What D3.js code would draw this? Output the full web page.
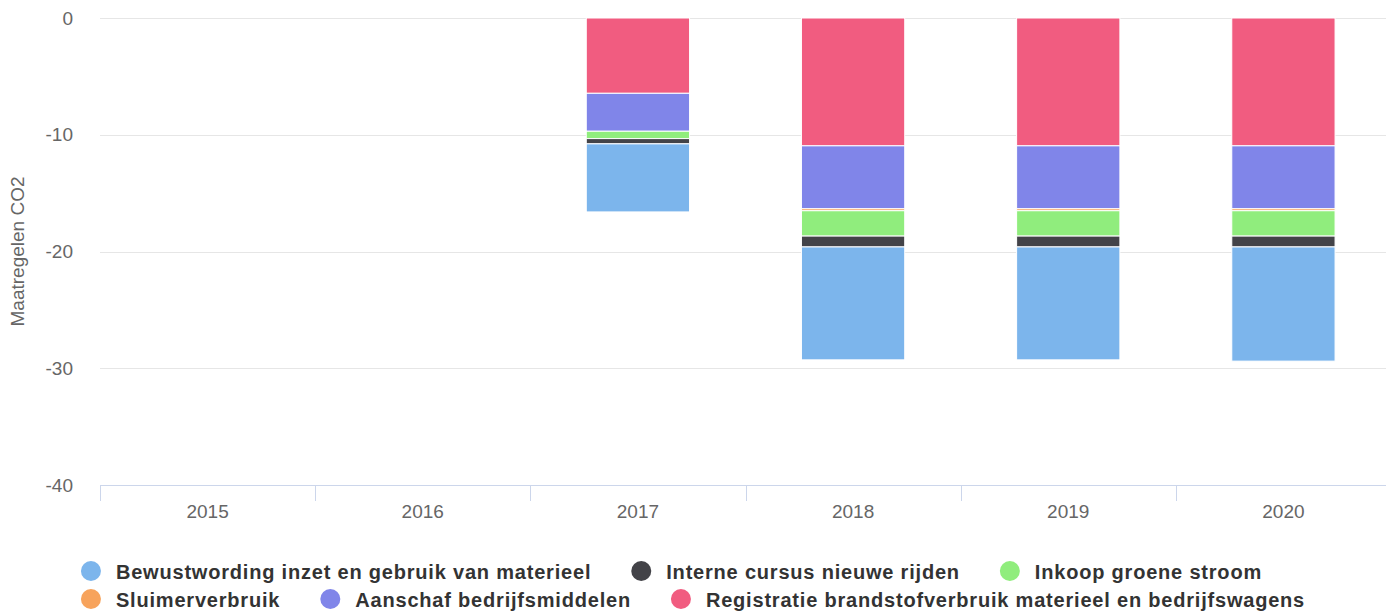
<!DOCTYPE html>
<html>
<head>
<meta charset="utf-8">
<script src="https://cdn.jsdelivr.net/npm/d3@7/dist/d3.min.js"></script>
<style>
  body { margin: 0; background: #fff; overflow: hidden; }
  svg { display: block; font-family: "Liberation Sans", Arial, Helvetica, sans-serif; }
</style>
</head>
<body>
<svg id="chart" width="1386" height="613"></svg>
<script>
// data
var categories = ["2015", "2016", "2017", "2018", "2019", "2020"];
var bewustwording = [0, 0, -5.83, -9.67, -9.67, -9.78];
var interneCursus = [0, 0, -0.45, -0.93, -0.93, -0.93];
var inkoopStroom = [0, 0, -0.63, -2.17, -2.17, -2.17];
var sluimer = [0, 0, 0, -0.17, -0.17, -0.17];
var aanschaf = [0, 0, -3.25, -5.39, -5.39, -5.39];
var registratie = [0, 0, -6.45, -10.95, -10.95, -10.95];
var yTicks = [0, -10, -20, -30, -40];

var series = [
    { name: "Bewustwording inzet en gebruik van materieel", values: bewustwording, color: "#7cb5ec" },
    { name: "Interne cursus nieuwe rijden", values: interneCursus, color: "#434348" },
    { name: "Inkoop groene stroom", values: inkoopStroom, color: "#90ed7d" },
    { name: "Sluimerverbruik", values: sluimer, color: "#f7a35c" },
    { name: "Aanschaf bedrijfsmiddelen", values: aanschaf, color: "#8085e9" },
    { name: "Registratie brandstofverbruik materieel en bedrijfswagens", values: registratie, color: "#f15c80" }
];

var svg = d3.select("#chart");
var plotLeft = 100, plotTop = 18, plotBottom = 485, plotRight = 1391;

var x = d3.scaleBand().domain(categories).range([plotLeft, plotRight]).padding(0);
var y = d3.scaleLinear().domain([-40, 0]).range([plotBottom, plotTop]);

// grid
svg.append("g").selectAll("line")
    .data(yTicks)
    .enter()
    .append("line")
    .attr("x1", plotLeft).attr("x2", 1386)
    .attr("y1", function (d) { return Math.round(y(d)) + 0.5; })
    .attr("y2", function (d) { return Math.round(y(d)) + 0.5; })
    .attr("stroke", "#e6e6e6").attr("stroke-width", 1);

// y labels
svg.append("g").selectAll("text")
    .data(yTicks)
    .enter()
    .append("text")
    .attr("x", 73)
    .attr("y", function (d) { return y(d) + 6.5; })
    .attr("text-anchor", "end")
    .attr("font-size", 19)
    .attr("fill", "#666666")
    .text(function (d) { return d; });

svg.append("text")
    .attr("transform", "translate(24," + ((plotTop + plotBottom) / 2) + ") rotate(-90)")
    .attr("text-anchor", "middle")
    .attr("font-size", 19)
    .attr("fill", "#666666")
    .text("Maatregelen CO2");

// stacked bars: last series sits closest to zero
var table = categories.map(function (c, i) {
    var row = { cat: c };
    series.forEach(function (s) { row[s.name] = s.values[i]; });
    return row;
});
var stackOrder = series.slice().reverse();
var stack = d3.stack()
    .keys(stackOrder.map(function (s) { return s.name; }))
    .offset(d3.stackOffsetDiverging);
var layers = stack(table);

var barW = x.bandwidth() * 0.48;
svg.append("g").selectAll("g")
    .data(layers)
    .enter()
    .append("g")
    .attr("fill", function (d, i) { return stackOrder[i].color; })
    .selectAll("rect")
    .data(function (d) { return d.filter(function (p) { return p[1] - p[0] !== 0; }); })
    .enter()
    .append("rect")
    .attr("x", function (d) { return x(d.data.cat) + (x.bandwidth() - barW) / 2; })
    .attr("width", barW)
    .attr("y", function (d) { return y(Math.max(d[0], d[1])); })
    .attr("height", function (d) { return Math.abs(y(d[0]) - y(d[1])); })
    .attr("stroke", "#ffffff")
    .attr("stroke-width", 1);

// x axis
var ax = svg.append("g");
ax.append("line")
    .attr("x1", plotLeft).attr("x2", 1386)
    .attr("y1", plotBottom + 0.5).attr("y2", plotBottom + 0.5)
    .attr("stroke", "#ccd6eb");
ax.selectAll("line.tick")
    .data(categories)
    .enter()
    .append("line")
    .attr("class", "tick")
    .attr("x1", function (d) { return Math.round(x(d)) + 0.5; })
    .attr("x2", function (d) { return Math.round(x(d)) + 0.5; })
    .attr("y1", plotBottom).attr("y2", plotBottom + 16)
    .attr("stroke", "#ccd6eb");
ax.selectAll("text")
    .data(categories)
    .enter()
    .append("text")
    .attr("x", function (d) { return x(d) + x.bandwidth() / 2; })
    .attr("y", 518)
    .attr("text-anchor", "middle")
    .attr("font-size", 19)
    .attr("fill", "#666666")
    .text(function (d) { return d; });

// legend (flowing rows, centred block)
var legend = svg.append("g");
var items = series.map(function (s) {
    var g = legend.append("g");
    g.append("circle").attr("r", 10).attr("cx", 10).attr("cy", -1).attr("fill", s.color);
    var t = g.append("text")
        .attr("x", 35).attr("y", 7)
        .attr("font-size", 20).attr("font-weight", "bold")
        .attr("letter-spacing", "0.8px")
        .attr("fill", "#333333")
        .text(s.name);
    return { g: g, w: 35 + t.node().getBBox().width };
});
var maxW = 1300, gap = 40, rows = [[]], rowW = [0];
items.forEach(function (it) {
    var r = rows.length - 1;
    var need = rowW[r] === 0 ? it.w : rowW[r] + gap + it.w;
    if (need > maxW && rowW[r] > 0) {
        rows.push([it]);
        rowW.push(it.w);
    } else {
        rows[r].push(it);
        rowW[r] = need;
    }
});
var boxW = d3.max(rowW);
var startX = (1386 - boxW) / 2;
rows.forEach(function (row, ri) {
    var cx = startX;
    row.forEach(function (it) {
        it.g.attr("transform", "translate(" + cx + "," + (572 + ri * 28) + ")");
        cx += it.w + gap;
    });
});
</script>
</body>
</html>
